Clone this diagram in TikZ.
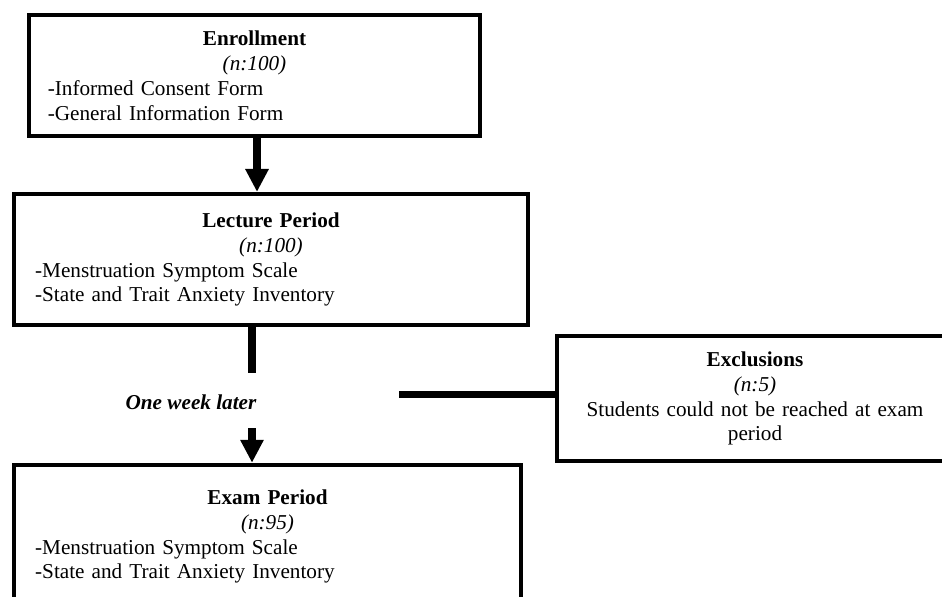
\documentclass[tikz,border=0pt]{standalone}
\usepackage{fontspec}
\setmainfont{Liberation Serif}
\usetikzlibrary{arrows.meta}
\begin{document}
\begin{tikzpicture}[x=0.566pt,y=-0.566pt,
  box/.style={draw,line width=2.5pt,inner sep=0pt,font=\fontsize{12pt}{14.1pt}\selectfont},
  link/.style={line width=4.5pt},
  arr/.style={link,-{Triangle[width=12.5pt,length=13pt]}}]
\clip (0,0) rectangle (942,596);
\node[box,minimum width=255pt,minimum height=68.5pt,text width=234pt] (enroll) at (254.5,75.5)
  {\centering\textbf{Enrollment}\\\textit{(n:100)}\par\raggedright -Informed Consent Form\\-General Information Form};
\node[box,minimum width=291pt,minimum height=74pt,text width=267pt] (lecture) at (271,259.5)
  {\centering\textbf{Lecture Period}\\\textit{(n:100)}\par\raggedright -Menstruation Symptom Scale\\-State and Trait Anxiety Inventory};
\node[box,minimum width=224pt,minimum height=71pt,text width=198pt,align=center] (excl) at (755,398.5)
  {\textbf{Exclusions}\\\textit{(n:5)}\\Students could not be reached at exam\\period};
\node[box,minimum width=287pt,minimum height=81pt,text width=263pt] (exam) at (267.5,536.5)
  {\centering\textbf{Exam Period}\\\textit{(n:95)}\par\raggedright -Menstruation Symptom Scale\\-State and Trait Anxiety Inventory};
\coordinate (c1) at (257,0);
\coordinate (c2) at (252,373);
\coordinate (c3) at (252,428);
\coordinate (c4) at (399,394.5);
\draw[arr] (enroll.south -| c1) -- (lecture.north -| c1);
\draw[link] (lecture.south -| c2) -- (c2);
\node[font=\fontsize{12pt}{14.1pt}\selectfont\bfseries\itshape] (later) at (191,402) {One week later};
\draw[arr] (c3) -- (exam.north -| c3);
\draw[link] (c4) -- (excl.west |- c4);
\end{tikzpicture}
\end{document}
